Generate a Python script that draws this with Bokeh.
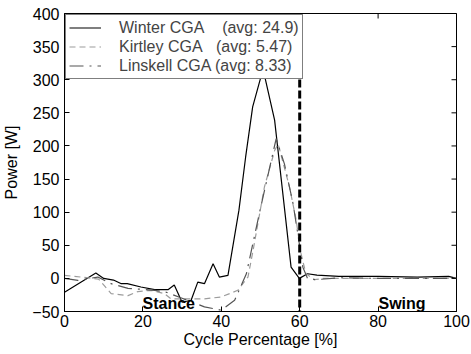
import math
from bokeh.plotting import figure
from bokeh.models import (FixedTicker, Legend, LegendItem, Range1d, Span, Label)
from bokeh.embed import file_html
from bokeh.resources import INLINE

# ---- data ----
winter_x = [0, 8, 10, 12.5, 14.5, 16, 19.5, 23, 26.4, 28, 30, 32.3, 34, 35.7, 37.9, 39.5,
            41.7, 44.5, 46.2, 48, 50, 51, 53.6, 57.8, 59.9, 62, 64.4, 70, 80, 90, 98, 100]
winter_y = [-21, 8, 0, -2.5, -8, -8, -13, -17, -17, -10, -36, -33, -5.6, -8, 22, 2,
            4.5, 103, 183, 259, 302, 307, 239, 17, 0, 7, 5, 3, 3, 2, 3, 0]

kirtley_x = [0, 4.3, 8.7, 11.9, 16.2, 18.7, 22.1, 25.5, 27.2, 35.7, 40, 44.2, 46.8, 48.1,
             51, 53.6, 54.5, 57.4, 59.1, 60.3, 61.6, 63.8, 66, 80, 100]
kirtley_y = [4.5, 2, -1, -23, -26, -20, -18, -23, -31, -31, -28, -18, 2, 42,
             138, 193, 203, 138, 88, 38, 7, -2, 0, 0, 0]

linskell_x = [0, 3.4, 8.5, 11.9, 16.2, 23, 26, 30, 35.7, 40, 43.4, 46.4, 49.7, 54.0,
              56.1, 58.3, 59.5, 60.8, 62, 64, 70, 80, 100]
linskell_y = [0, -3, 2, -8, -15, -18, -21, -30, -43, -48, -33, 7, 98, 211,
              173, 113, 68, 17, 0, -2, 1, 0, 0]

legend_labels = ["Winter CGA\u00a0\u00a0\u00a0\u00a0(avg: 24.9)",
                 "Kirtley CGA\u00a0\u00a0\u00a0(avg: 5.47)",
                 "Linskell CGA (avg: 8.33)"]
x_ticks = [0, 20, 40, 60, 80, 100]
y_ticks = [-50, 0, 50, 100, 150, 200, 250, 300, 350, 400]
x_min, x_max = 0, 100
y_min, y_max = -50, 400
stance_split = 60
phase_labels = ["Stance", "Swing"]
phase_x = [26.6, 86.1]

FONT = "Liberation Sans"

p = figure(frame_width=392, frame_height=298, output_backend="svg",
           toolbar_location=None, x_range=Range1d(x_min, x_max), y_range=Range1d(y_min, y_max),
           min_border_left=63, min_border_right=16, min_border_top=13, min_border_bottom=43,
           background_fill_color="white", border_fill_color="white")
p.xgrid.visible = False
p.ygrid.visible = False
p.outline_line_color = "black"

r1 = p.line(winter_x, winter_y, line_color="black", line_width=1.2)
r2 = p.line(kirtley_x, kirtley_y, line_color="#9c9c9c", line_width=1.2, line_dash="6 4")
r3 = p.line(linskell_x, linskell_y, line_color="#555555", line_width=1.2, line_dash="14 6 2 6")

# inward ticks on the top and right edges (clipped to the frame)
p.scatter(x=x_ticks, y=[y_max] * len(x_ticks), marker="dash", angle=math.pi / 2,
          size=10, line_color="black", line_width=1)
p.scatter(x=[x_max] * len(y_ticks), y=y_ticks, marker="dash",
          size=10, line_color="black", line_width=1)

p.add_layout(Span(location=stance_split, dimension="height", line_color="black",
                  line_width=3, line_dash="8 3"))

for t, xx in zip(phase_labels, phase_x):
    p.add_layout(Label(x=xx, y=y_min, text=t, text_align="center", text_baseline="bottom",
                       text_font=FONT, text_font_size="16px", text_font_style="bold",
                       text_color="black"))

for ax, ticks in ((p.xaxis[0], x_ticks), (p.yaxis[0], y_ticks)):
    ax.ticker = FixedTicker(ticks=ticks)
    ax.major_tick_in = 5
    ax.major_tick_out = 0
    ax.minor_tick_in = 0
    ax.minor_tick_out = 0
    ax.axis_line_color = "black"
    ax.major_tick_line_color = "black"
    ax.major_label_text_font = FONT
    ax.major_label_text_font_size = "16px"
    ax.major_label_text_color = "black"
    ax.axis_label_text_font = FONT
    ax.axis_label_text_font_size = "16px"
    ax.axis_label_text_font_style = "normal"
    ax.axis_label_text_color = "black"

p.xaxis.axis_label = "Cycle Percentage [%]"
p.yaxis.axis_label = "Power [W]"
p.xaxis.major_label_standoff = 3
p.xaxis.axis_label_standoff = 1
p.yaxis.major_label_standoff = 5
p.yaxis.axis_label_standoff = 9

legend = Legend(items=[LegendItem(label=legend_labels[0], renderers=[r1]),
                       LegendItem(label=legend_labels[1], renderers=[r2]),
                       LegendItem(label=legend_labels[2], renderers=[r3])],
                location="top_left", margin=1, padding=3, spacing=0,
                glyph_width=32, glyph_height=19, label_height=19, label_standoff=18,
                label_text_font=FONT, label_text_font_size="16px",
                border_line_color="black", border_line_width=1,
                background_fill_color="white", background_fill_alpha=1.0)
p.add_layout(legend)

open("out.html", "w").write(file_html(p, INLINE))
